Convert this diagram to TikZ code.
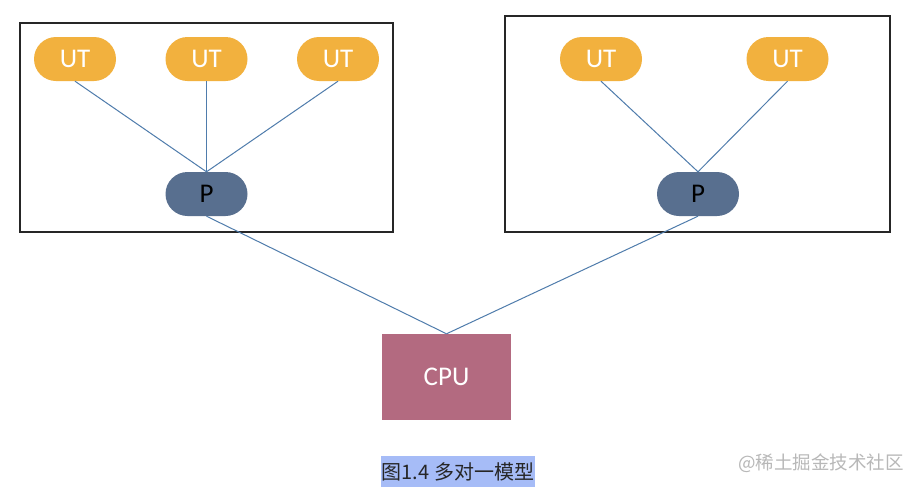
\documentclass[tikz,border=0pt]{standalone}
\usepackage{fontspec}
\setmainfont{Carlito}
\newfontfamily\cjk{Noto Sans CJK SC}
\definecolor{utc}{HTML}{F2B13E}
\definecolor{pc}{HTML}{586F8F}
\definecolor{cpuc}{HTML}{B36A80}
\definecolor{linec}{HTML}{4F7CAC}
\definecolor{capbg}{HTML}{A6BCF7}
\definecolor{wmc}{HTML}{B8B8B8}
\tikzset{
  pill/.style={rectangle, rounded corners=22pt, minimum width=82pt, minimum height=44pt, inner sep=0pt, font=\fontsize{27}{32}\selectfont},
  utbox/.style={pill, fill=utc, text=white},
  pbox/.style={pill, fill=pc, text=black},
  cpubox/.style={rectangle, fill=cpuc, text=white, minimum width=129pt, minimum height=86pt, inner sep=0pt, font=\fontsize{27}{32}\selectfont},
  frame/.style={rectangle, draw=black!85, line width=1.2pt, inner sep=0pt},
  conn/.style={draw=linec, line width=1pt},
}
\begin{document}
\begin{tikzpicture}[x=1pt,y=-1pt]
\useasboundingbox (0,0) rectangle (917,490);
\fill[white] (0,0) rectangle (917,490);
% frames
\node[frame, minimum width=373pt, minimum height=209pt] (boxL) at (206.5,127.5) {};
\node[frame, minimum width=385pt, minimum height=216pt] (boxR) at (697.5,124) {};
% left group
\node[utbox] (ut1) at (75,59) {UT};
\node[utbox] (ut2) at (206.5,59) {UT};
\node[utbox] (ut3) at (338,59) {UT};
\node[pbox] (p1) at (206.5,194) {P};
% right group
\node[utbox] (ut4) at (601,59) {UT};
\node[utbox] (ut5) at (787.5,59) {UT};
\node[pbox] (p2) at (698,194) {P};
% cpu
\node[cpubox] (cpu) at (446.5,377) {CPU};
% connectors
\draw[conn] (ut1.south) -- (p1.north);
\draw[conn] (ut2.south) -- (p1.north);
\draw[conn] (ut3.south) -- (p1.north);
\draw[conn] (ut4.south) -- (p2.north);
\draw[conn] (ut5.south) -- (p2.north);
\draw[conn] (p1.south) -- (cpu.north);
\draw[conn] (p2.south) -- (cpu.north);
% caption
\node[fill=capbg, minimum width=154pt, minimum height=31pt, inner sep=0pt, font=\cjk\fontsize{20}{24}\selectfont, text=black!85] (cap) at (458,471.5) {图1.4 多对一模型};
\node[font=\cjk\fontsize{18.5}{22}\selectfont, text=wmc, inner sep=0pt] (wm) at (821,463) {@稀土掘金技术社区};
\end{tikzpicture}
\end{document}
